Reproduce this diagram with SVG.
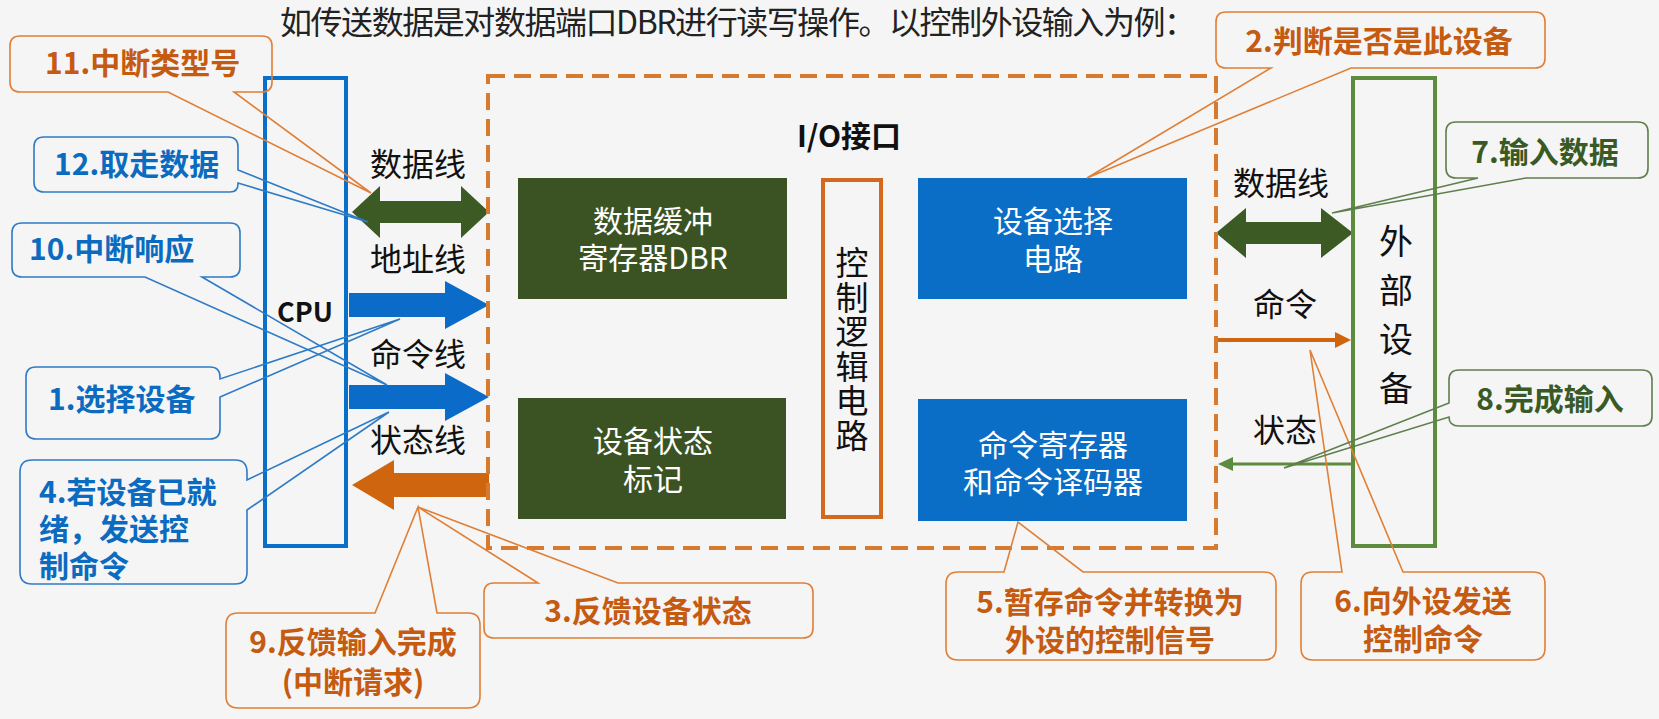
<svg xmlns="http://www.w3.org/2000/svg" width="1659" height="719" viewBox="0 0 1659 719">
<style>
text{font-family:"Noto Sans CJK SC","Liberation Sans",sans-serif}
.lbl{font-size:32px;fill:#111}
.cb{font-size:30px;font-weight:bold}
.or{fill:#C55A11}
.bl{fill:#0A6BC0}
.gr{fill:#3A5A25}
.co{fill:none;stroke-width:1.6}
.cor{stroke:#E07F35}
.cbl{stroke:#2E7BC6}
.cgr{stroke:#5E7F4C}
.wt{font-size:30px;fill:#fff;text-anchor:middle}
.vt{fill:#111;writing-mode:vertical-rl}
</style>
<rect width="1659" height="719" fill="#F5F5F5"/>
<text x="280" y="34" font-size="32" fill="#222" textLength="916">如传送数据是对数据端口DBR进行读写操作。以控制外设输入为例：</text>

<g id="connectors">
  <polygon points="352,212 380,186 380,201 461,201 461,186 489,212 461,238 461,223 380,223 380,238" fill="#3B5A24"/>
  <polygon points="349,293 445,293 445,281 489,305 445,329 445,317 349,317" fill="#0A6BC8"/>
  <polygon points="349,385 445,385 445,373 489,397 445,421 445,409 349,409" fill="#0A6BC8"/>
  <polygon points="489,473 394,473 394,460 352,485 394,510 394,497 489,497" fill="#D0650F"/>
  <polygon points="1216,233 1246,208 1246,222 1321,222 1321,208 1353,233 1321,258 1321,244 1246,244 1246,258" fill="#3B5A24"/>
  <line x1="1216" y1="340" x2="1338" y2="340" stroke="#D0650F" stroke-width="4"/>
  <polygon points="1351,340 1335,332 1335,348" fill="#D0650F"/>
  <line x1="1351" y1="464" x2="1230" y2="464" stroke="#5E8C3E" stroke-width="3"/>
  <polygon points="1218,464 1233,457 1233,471" fill="#5E8C3E"/>
  <text class="lbl" x="418" y="176" text-anchor="middle">数据线</text>
  <text class="lbl" x="418" y="271" text-anchor="middle">地址线</text>
  <text class="lbl" x="418" y="366" text-anchor="middle">命令线</text>
  <text class="lbl" x="418" y="452" text-anchor="middle">状态线</text>
  <text class="lbl" x="1281" y="195" text-anchor="middle">数据线</text>
  <text class="lbl" x="1285" y="316" text-anchor="middle">命令</text>
  <text class="lbl" x="1285" y="442" text-anchor="middle">状态</text>
</g>

<g id="cpu">
  <rect x="265" y="78" width="81" height="468" fill="none" stroke="#0A6FC8" stroke-width="4"/>
  <text x="305" y="322" font-size="27" font-weight="bold" fill="#111" text-anchor="middle">CPU</text>
</g>

<g id="io">
  <rect x="488" y="76" width="728" height="472" fill="none" stroke="#D57A2F" stroke-width="4" stroke-dasharray="17,9"/>
  <text x="849" y="147" font-size="30" font-weight="bold" fill="#111" text-anchor="middle">I/O接口</text>
</g>

<g id="dbr">
  <rect x="518" y="178" width="269" height="121" fill="#3B5323"/>
  <text class="wt" x="653" y="232">数据缓冲<tspan x="653" dy="37">寄存器DBR</tspan></text>
</g>

<g id="status">
  <rect x="518" y="398" width="268" height="121" fill="#3B5323"/>
  <text class="wt" x="653" y="452">设备状态<tspan x="653" dy="38">标记</tspan></text>
</g>

<g id="ctrl">
  <rect x="823" y="180" width="58" height="337" fill="none" stroke="#D2691E" stroke-width="4"/>
  <text class="vt" x="852" y="246" font-size="33" letter-spacing="1.5">控制逻辑电路</text>
</g>

<g id="select">
  <rect x="918" y="178" width="269" height="121" fill="#0A6DC6"/>
  <text class="wt" x="1053" y="232">设备选择<tspan x="1053" dy="38">电路</tspan></text>
</g>

<g id="cmdreg">
  <rect x="918" y="399" width="269" height="122" fill="#0A6DC6"/>
  <text class="wt" x="1053" y="456">命令寄存器<tspan x="1053" dy="37">和命令译码器</tspan></text>
</g>

<g id="ext">
  <rect x="1353" y="78" width="82" height="468" fill="none" stroke="#5E8C3E" stroke-width="4"/>
  <text class="vt" x="1396" y="224" font-size="34" letter-spacing="15">外部设备</text>
</g>

<g id="c11">
  <path class="co cor" d="M20,36 H262 Q272,36 272,46 V82 Q272,92 262,92 H234 L371,193 L168,92 H20 Q10,92 10,82 V46 Q10,36 20,36 Z"/>
  <text class="cb or" x="45" y="74">11.中断类型号</text>
</g>
<g id="c12">
  <path class="co cbl" d="M44,137 H228 Q238,137 238,147 V170 L368,222 L238,183 V184 Q238,192 230,192 H44 Q34,192 34,182 V147 Q34,137 44,137 Z"/>
  <text class="cb bl" x="54" y="175">12.取走数据</text>
</g>
<g id="c10">
  <path class="co cbl" d="M22,223 H230 Q240,223 240,233 V267 Q240,277 230,277 H202 L387,385 L145,277 H22 Q12,277 12,267 V233 Q12,223 22,223 Z"/>
  <text class="cb bl" x="29" y="260">10.中断响应</text>
</g>
<g id="c1">
  <path class="co cbl" d="M36,367 H210 Q220,367 220,377 V379 L400,319 L220,397 V429 Q220,439 210,439 H36 Q26,439 26,429 V377 Q26,367 36,367 Z"/>
  <text class="cb bl" x="48" y="410">1.选择设备</text>
</g>
<g id="c4">
  <path class="co cbl" d="M32,460 H235 Q247,460 247,472 V480 L389,412 L247,510 V572 Q247,584 235,584 H32 Q20,584 20,572 V472 Q20,460 32,460 Z"/>
  <text class="cb bl" x="39" y="503">4.若设备已就<tspan x="39" dy="37">绪，发送控</tspan><tspan x="39" dy="37">制命令</tspan></text>
</g>
<g id="c9">
  <path class="co cor" d="M238,613 H375 L418,507 L437,613 H468 Q480,613 480,625 V696 Q480,708 468,708 H238 Q226,708 226,696 V625 Q226,613 238,613 Z"/>
  <text class="cb or" x="353" y="653" text-anchor="middle">9.反馈输入完成<tspan x="353" dy="40">(中断请求)</tspan></text>
</g>
<g id="c3">
  <path class="co cor" d="M494,583 H538 L418,507 L618,583 H803 Q813,583 813,593 V628 Q813,638 803,638 H494 Q484,638 484,628 V593 Q484,583 494,583 Z"/>
  <text class="cb or" x="648" y="622" text-anchor="middle">3.反馈设备状态</text>
</g>
<g id="c5">
  <path class="co cor" d="M958,572 H1004 L1018,522 L1083,572 H1264 Q1276,572 1276,584 V648 Q1276,660 1264,660 H958 Q946,660 946,648 V584 Q946,572 958,572 Z"/>
  <text class="cb or" x="1110" y="613" text-anchor="middle">5.暂存命令并转换为<tspan x="1110" dy="38">外设的控制信号</tspan></text>
</g>
<g id="c6">
  <path class="co cor" d="M1313,572 H1342 L1310,350 L1403,572 H1533 Q1545,572 1545,584 V648 Q1545,660 1533,660 H1313 Q1301,660 1301,648 V584 Q1301,572 1313,572 Z"/>
  <text class="cb or" x="1423" y="612" text-anchor="middle">6.向外设发送<tspan x="1423" dy="38">控制命令</tspan></text>
</g>
<g id="c2">
  <path class="co cor" d="M1226,12 H1535 Q1545,12 1545,22 V58 Q1545,68 1535,68 H1351 L1087,178 L1271,68 H1226 Q1216,68 1216,58 V22 Q1216,12 1226,12 Z"/>
  <text class="cb or" x="1379" y="52" text-anchor="middle">2.判断是否是此设备</text>
</g>
<g id="c7">
  <path class="co cgr" d="M1456,122 H1638 Q1648,122 1648,132 V168 Q1648,178 1638,178 H1526 L1332,213 L1478,178 H1456 Q1446,178 1446,168 V132 Q1446,122 1456,122 Z"/>
  <text class="cb gr" x="1545" y="163" text-anchor="middle">7.输入数据</text>
</g>
<g id="c8">
  <path class="co cgr" d="M1459,370 H1642 Q1652,370 1652,380 V416 Q1652,426 1642,426 H1459 Q1449,426 1449,417 L1284,468 L1449,403 V380 Q1449,370 1459,370 Z"/>
  <text class="cb gr" x="1550" y="410" text-anchor="middle">8.完成输入</text>
</g>
</svg>
